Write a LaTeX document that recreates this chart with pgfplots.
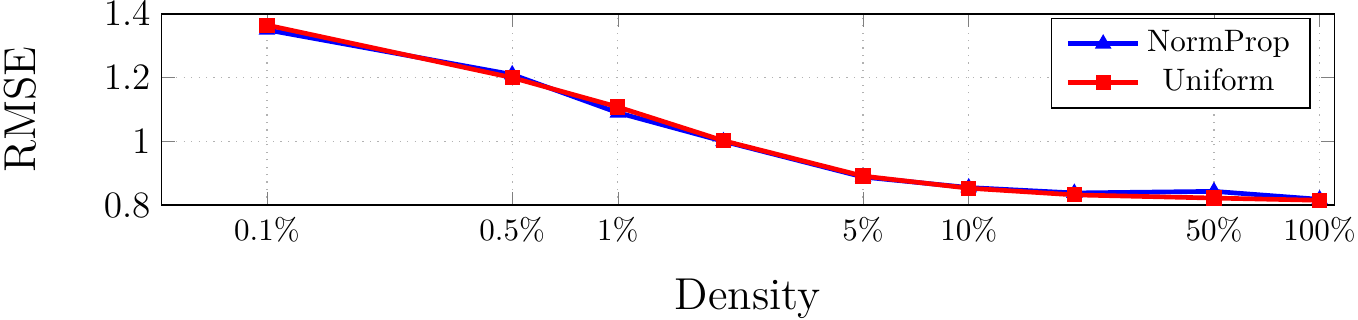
\documentclass[border=0pt]{standalone}
\usepackage{pgfplots}
\pgfplotsset{compat=1.18}
\begin{document}
\begin{tikzpicture}
\begin{axis}[
 name=main,
 scale only axis, width=378pt, height=61.6pt,
 xmode=log, xmin=0.05, xmax=110, ymin=0.8, ymax=1.4,
 xtick={0.1,0.5,1,5,10,50,100},
 xticklabels={0.1\%,0.5\%,1\%,5\%,10\%,50\%,100\%},
 ytick={0.8,1,1.2,1.4},
 yticklabel style={font=\large},
 xticklabel style={yshift=-0.5pt},
 grid=major, grid style={dotted, gray!60},
 xlabel={Density}, ylabel={RMSE}, label style={font=\Large},
 xlabel shift=5pt, ylabel shift=15pt,
 legend cell align=center,
 legend style={font=\normalsize, inner xsep=4.5pt},
]
\addplot[blue, line width=1.5pt, mark=triangle*, mark size=2.6pt, mark options={solid, line width=0.5pt},
 legend image code/.code={\draw[mark repeat=2,mark phase=2] plot coordinates {(0cm,0cm)(0.4cm,0cm)(0.8cm,0cm)};}] coordinates {
(0.1,1.350) (0.5,1.210) (1,1.090) (2,1.000) (5,0.888) (10,0.855) (20,0.838) (50,0.843) (100,0.818)};
\addlegendentry{NormProp}
\addplot[red, line width=1.5pt, mark=square*, mark size=2.2pt, mark options={solid, line width=0.5pt},
 legend image code/.code={\draw[mark repeat=2,mark phase=2] plot coordinates {(0cm,0cm)(0.4cm,0cm)(0.8cm,0cm)};}] coordinates {
(0.1,1.365) (0.5,1.200) (1,1.108) (2,1.002) (5,0.891) (10,0.853) (20,0.832) (50,0.822) (100,0.815)};
\addlegendentry{Uniform}
\end{axis}
\pgfresetboundingbox
\path ([xshift=-52pt,yshift=-37pt]main.south west) rectangle ([xshift=7.7pt,yshift=4.5pt]main.north east);
\end{tikzpicture}
\end{document}
